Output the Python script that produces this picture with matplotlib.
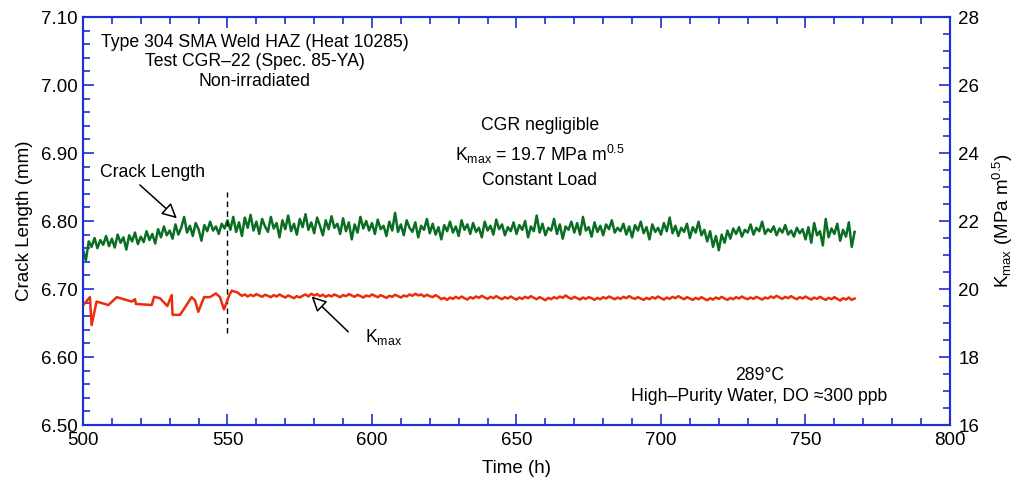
import numpy as np
import matplotlib
matplotlib.use("Agg")
import matplotlib.pyplot as plt
from matplotlib.ticker import MultipleLocator

plt.rcParams["font.family"] = ["Liberation Sans", "DejaVu Sans"]
plt.rcParams["mathtext.fontset"] = "custom"
plt.rcParams["mathtext.rm"] = "Liberation Sans"
plt.rcParams["mathtext.it"] = "Liberation Sans"

# ── Data ──────────────────────────────────────────────────────────────────────

# crack length, mm, hourly from 500 h
crack_hours = np.arange(500, 768)
crack_mm = [
    6.758, 6.742, 6.770, 6.762, 6.775, 6.760, 6.772, 6.765, 6.778, 6.763,
    6.774, 6.761, 6.780, 6.768, 6.776, 6.758, 6.779, 6.770, 6.783, 6.766,
    6.777, 6.769, 6.785, 6.772, 6.781, 6.767, 6.788, 6.776, 6.792, 6.779,
    6.786, 6.774, 6.795, 6.780, 6.790, 6.806, 6.783, 6.793, 6.778, 6.797,
    6.788, 6.771, 6.794, 6.785, 6.799, 6.786, 6.792, 6.781, 6.796, 6.789,
    6.801, 6.787, 6.806, 6.784, 6.798, 6.778, 6.805, 6.790, 6.809, 6.786,
    6.799, 6.781, 6.803, 6.792, 6.784, 6.806, 6.789, 6.797, 6.776, 6.801,
    6.788, 6.808, 6.785, 6.796, 6.780, 6.803, 6.791, 6.810, 6.787, 6.798,
    6.782, 6.805, 6.793, 6.779, 6.801, 6.788, 6.807, 6.790, 6.796, 6.781,
    6.804, 6.785, 6.798, 6.773, 6.795, 6.783, 6.806, 6.789, 6.800, 6.786,
    6.797, 6.781, 6.802, 6.788, 6.793, 6.778, 6.799, 6.786, 6.812, 6.784,
    6.795, 6.779, 6.801, 6.790, 6.784, 6.798, 6.776, 6.793, 6.787, 6.803,
    6.782, 6.796, 6.780, 6.791, 6.773, 6.794, 6.785, 6.799, 6.783, 6.792,
    6.778, 6.801, 6.787, 6.795, 6.781, 6.797, 6.784, 6.790, 6.776, 6.799,
    6.786, 6.793, 6.780, 6.802, 6.788, 6.795, 6.779, 6.791, 6.785, 6.798,
    6.781, 6.794, 6.787, 6.800, 6.776, 6.792, 6.785, 6.808, 6.783, 6.796,
    6.779, 6.790, 6.786, 6.803, 6.781, 6.795, 6.774, 6.792, 6.787, 6.799,
    6.783, 6.797, 6.780, 6.806, 6.786, 6.791, 6.777, 6.798, 6.784, 6.793,
    6.779, 6.795, 6.788, 6.801, 6.783, 6.790, 6.785, 6.796, 6.780, 6.792,
    6.776, 6.794, 6.786, 6.799, 6.782, 6.791, 6.773, 6.795, 6.784, 6.790,
    6.780, 6.797, 6.785, 6.805, 6.782, 6.793, 6.778, 6.790, 6.784, 6.796,
    6.775, 6.791, 6.783, 6.799, 6.779, 6.787, 6.770, 6.785, 6.762, 6.778,
    6.757, 6.780, 6.768, 6.786, 6.774, 6.789, 6.781, 6.791, 6.777, 6.787,
    6.783, 6.795, 6.780, 6.790, 6.785, 6.799, 6.781, 6.788, 6.784, 6.792,
    6.779, 6.789, 6.783, 6.794, 6.780, 6.786, 6.777, 6.790, 6.782, 6.788,
    6.773, 6.791, 6.768, 6.797, 6.779, 6.785, 6.764, 6.803, 6.776, 6.789,
    6.781, 6.796, 6.771, 6.787, 6.777, 6.798, 6.762, 6.784,
]

# Kmax, MPa m^0.5 -- sparse logging before ~554 h, hourly afterwards
kmax_early_hours = [
    500.1, 502.4, 503.0, 504.7, 508.8, 511.7, 516.9, 518.0, 518.3, 523.8,
    524.6, 526.6, 529.2, 530.7, 531.0, 533.6, 537.6, 538.8, 539.9, 541.9,
    543.9, 546.0, 547.4, 548.8, 550.6, 551.5, 553.7,
]
kmax_early = [
    19.53, 19.76, 18.94, 19.63, 19.53, 19.76, 19.63, 19.70, 19.56, 19.53,
    19.77, 19.73, 19.50, 19.82, 19.24, 19.24, 19.76, 19.66, 19.33, 19.76,
    19.76, 19.87, 19.76, 19.40, 19.82, 19.95, 19.89,
]
kmax_hours = np.arange(554, 768)
kmax_vals = [
    19.86, 19.80, 19.84, 19.78, 19.83, 19.79, 19.85, 19.81, 19.77, 19.83,
    19.80, 19.76, 19.82, 19.78, 19.84, 19.79, 19.75, 19.81, 19.77, 19.73,
    19.79, 19.75, 19.80, 19.84, 19.78, 19.86, 19.81, 19.85, 19.79, 19.83,
    19.77, 19.82, 19.78, 19.84, 19.80, 19.76, 19.82, 19.79, 19.85, 19.81,
    19.77, 19.83, 19.79, 19.75, 19.81, 19.78, 19.84, 19.80, 19.76, 19.82,
    19.78, 19.74, 19.80, 19.77, 19.83, 19.79, 19.75, 19.81, 19.78, 19.84,
    19.80, 19.86, 19.81, 19.84, 19.78, 19.83, 19.79, 19.76, 19.82, 19.77,
    19.70, 19.74, 19.68, 19.75, 19.71, 19.77, 19.72, 19.78, 19.73, 19.69,
    19.76, 19.72, 19.78, 19.74, 19.80, 19.75, 19.71, 19.77, 19.73, 19.79,
    19.74, 19.70, 19.76, 19.72, 19.78, 19.73, 19.69, 19.75, 19.71, 19.77,
    19.73, 19.79, 19.74, 19.70, 19.76, 19.72, 19.67, 19.74, 19.70, 19.76,
    19.72, 19.78, 19.74, 19.81, 19.75, 19.71, 19.77, 19.73, 19.69, 19.75,
    19.71, 19.76, 19.73, 19.68, 19.74, 19.70, 19.76, 19.72, 19.78, 19.74,
    19.70, 19.75, 19.71, 19.77, 19.73, 19.79, 19.74, 19.71, 19.76, 19.72,
    19.68, 19.74, 19.70, 19.76, 19.72, 19.78, 19.73, 19.69, 19.75, 19.71,
    19.77, 19.73, 19.79, 19.74, 19.70, 19.76, 19.72, 19.68, 19.74, 19.70,
    19.76, 19.71, 19.67, 19.73, 19.69, 19.75, 19.71, 19.77, 19.72, 19.68,
    19.74, 19.70, 19.76, 19.72, 19.78, 19.73, 19.70, 19.75, 19.71, 19.77,
    19.73, 19.69, 19.75, 19.72, 19.78, 19.74, 19.80, 19.75, 19.71, 19.77,
    19.73, 19.79, 19.74, 19.70, 19.76, 19.72, 19.78, 19.73, 19.69, 19.75,
    19.71, 19.77, 19.72, 19.68, 19.74, 19.70, 19.76, 19.71, 19.66, 19.73,
    19.69, 19.75, 19.68, 19.72,
]

load_change_h = 550          # dashed marker
load_change_span = (6.635, 6.843)

# ── Figure ────────────────────────────────────────────────────────────────────

BLUE = "#1f2fd8"
GREEN = "#0a6e22"
RED = "#ea2d08"

fig = plt.figure(figsize=(10.18, 4.86), dpi=100)
ax = fig.add_axes([0.0815, 0.1255, 0.8517, 0.8395])
ax2 = ax.twinx()

ax.plot(crack_hours, crack_mm, color=GREEN, lw=1.8, zorder=3)
ax2.plot(list(kmax_early_hours) + list(kmax_hours),
         list(kmax_early) + list(kmax_vals), color=RED, lw=1.8)
ax.plot([load_change_h, load_change_h], load_change_span,
        color="black", lw=1, ls=(0, (4, 3)), zorder=4)

ax.set_xlim(500, 800)
ax.set_ylim(6.50, 7.10)
ax2.set_ylim(16, 28)

ax.xaxis.set_major_locator(MultipleLocator(50))
ax.xaxis.set_minor_locator(MultipleLocator(10))
ax.yaxis.set_major_locator(MultipleLocator(0.10))
ax.yaxis.set_minor_locator(MultipleLocator(0.02))
ax2.yaxis.set_major_locator(MultipleLocator(2))
ax2.yaxis.set_minor_locator(MultipleLocator(0.5))
ax.yaxis.set_major_formatter(matplotlib.ticker.FormatStrFormatter("%.2f"))

for a in (ax, ax2):
    for s in a.spines.values():
        s.set_color(BLUE)
        s.set_linewidth(1.5)
    a.tick_params(which="both", direction="in", color=BLUE, labelsize=13.5,
                  width=1.2)
    a.tick_params(which="major", length=8)
    a.tick_params(which="minor", length=5)
ax.tick_params(which="both", top=True, right=False)
ax.tick_params(axis="x", pad=5)
ax2.tick_params(which="both", left=False, right=True, pad=6)

ax.set_xlabel("Time (h)", fontsize=13.5, labelpad=8)
ax.set_ylabel("Crack Length (mm)", fontsize=13.5, labelpad=6)
ax2.set_ylabel("K$_{max}$ (MPa m$^{0.5}$)", fontsize=13.5, labelpad=8)

# ── Annotations ───────────────────────────────────────────────────────────────

ax.text(559.5, 7.034, "Type 304 SMA Weld HAZ (Heat 10285)\nTest CGR\u201322 (Spec. 85-YA)\nNon-irradiated",
        ha="center", va="center", fontsize=12.7, linespacing=1.2)
ax.text(658, 6.9, "CGR negligible\nK$_{max}$ = 19.7 MPa m$^{0.5}$\nConstant Load",
        ha="center", va="center", fontsize=12.7, linespacing=1.5)
ax.text(734, 6.557, "289\u00b0C\nHigh\u2013Purity Water, DO \u2248300 ppb",
        ha="center", va="center", fontsize=12.7, linespacing=1.3)

arrow = dict(arrowstyle="-|>,head_length=0.9,head_width=0.45", fc="white",
             ec="black", lw=1.1, shrinkA=0, shrinkB=0)
ax.annotate("", xy=(532.5, 6.804), xytext=(519.7, 6.853), arrowprops=arrow)
ax.text(505.9, 6.872, "Crack Length", ha="left", va="center", fontsize=12.7)
ax.annotate("", xy=(579.1, 6.689), xytext=(591.8, 6.637), arrowprops=arrow)
ax.text(597.5, 6.630, "K$_{max}$", ha="left", va="center", fontsize=12.7)

fig.savefig("out.png", dpi=100)
